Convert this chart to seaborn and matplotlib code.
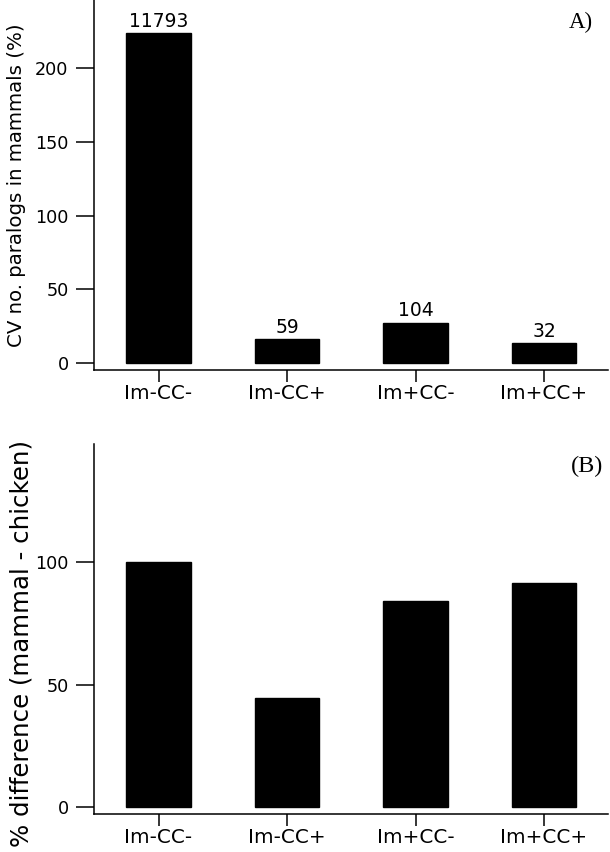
import matplotlib
matplotlib.use("Agg")
import matplotlib.pyplot as plt
import seaborn as sns
import pandas as pd

# categories shared by both panels
groups = ["Im-CC-", "Im-CC+", "Im+CC-", "Im+CC+"]

# panel A: CV of paralog number in mammals (%), with counts on top
cv_paralogs = [223.7, 16.3, 27.5, 13.6]
n_genes = ["11793", "59", "104", "32"]

# panel B: % difference (mammal - chicken)
pct_diff = [100.0, 44.4, 84.1, 91.2]

sns.set_style("ticks")
plt.rcParams["font.family"] = ["DejaVu Sans"]
plt.rcParams["text.color"] = "black"
plt.rcParams["axes.labelcolor"] = "black"

df_a = pd.DataFrame({"group": groups, "value": cv_paralogs})
df_b = pd.DataFrame({"group": groups, "value": pct_diff})

fig = plt.figure(figsize=(6.1, 8.52), dpi=100)
ax_a = fig.add_axes([0.1546, 0.5657, 0.8426, 0.4343])
ax_b = fig.add_axes([0.1546, 0.0443, 0.8426, 0.4346])


def style_axis(ax):
    for side in ["top", "right"]:
        ax.spines[side].set_visible(False)
    for side in ["left", "bottom"]:
        ax.spines[side].set_linewidth(1.1)
        ax.spines[side].set_color("black")
    ax.tick_params(axis="y", length=13, width=1.1, pad=5.5, labelsize=12.7,
                   colors="black", labelcolor="black")
    ax.tick_params(axis="x", length=8.6, width=1.1, pad=1.2, labelsize=14.4,
                   colors="black", labelcolor="black")
    ax.set_xlim(-0.5, 3.5)
    ax.set_xlabel("")


# --- panel A ---
sns.barplot(data=df_a, x="group", y="value", color="black", width=0.5,
            saturation=1, edgecolor="black", ax=ax_a)
style_axis(ax_a)
ax_a.set_ylim(-4.7, 246.3)
ax_a.set_yticks([0, 50, 100, 150, 200])
ax_a.bar_label(ax_a.containers[0], labels=n_genes, padding=1.5, fontsize=13.5,
               color="black")
ax_a.set_ylabel("CV no. paralogs in mammals (%)", fontsize=14.2)
ax_a.yaxis.set_label_coords(-0.133, 0.5)
ax_a.text(0.97, 0.94, "A)", transform=ax_a.transAxes, ha="right", va="center",
          fontsize=16.5, family="Liberation Serif", color="black")

# --- panel B ---
sns.barplot(data=df_b, x="group", y="value", color="black", width=0.5,
            saturation=1, edgecolor="black", ax=ax_b)
style_axis(ax_b)
ax_b.set_ylim(-2.85, 148)
ax_b.set_yticks([0, 50, 100])
ax_b.set_ylabel("% difference (mammal - chicken)", fontsize=17.6)
ax_b.yaxis.set_label_coords(-0.119, 0.461)
ax_b.text(0.99, 0.94, "(B)", transform=ax_b.transAxes, ha="right", va="center",
          fontsize=17.5, family="Liberation Serif", color="black")

fig.savefig("out.png", dpi=100)
